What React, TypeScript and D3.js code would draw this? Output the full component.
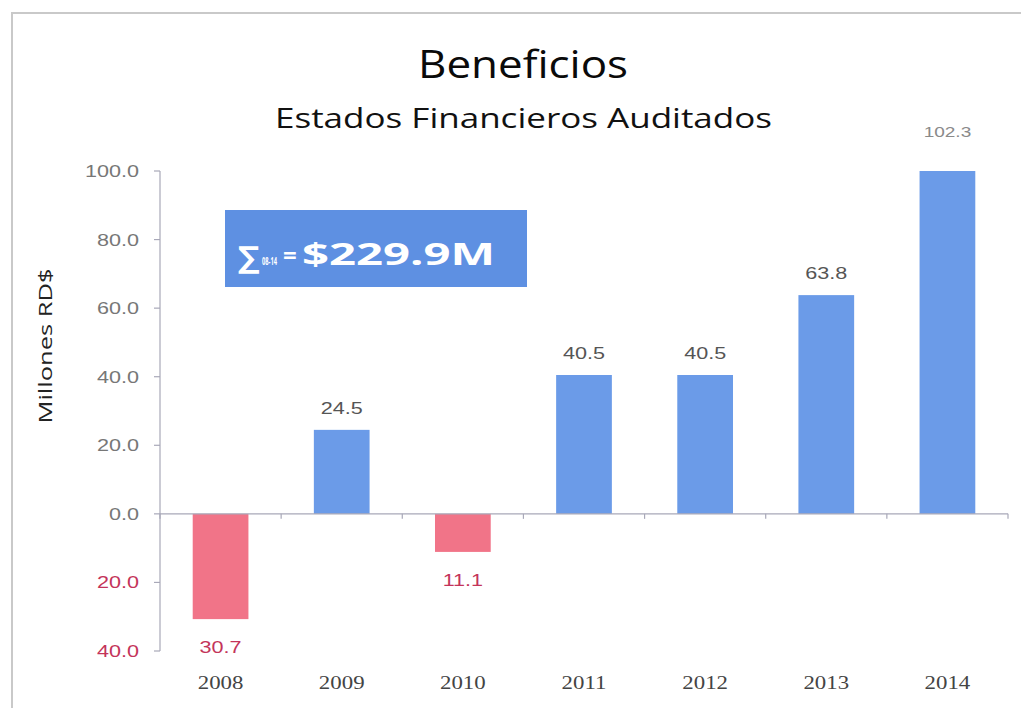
import React from "react";
import * as d3 from "d3";

const years = ["2008", "2009", "2010", "2011", "2012", "2013", "2014"];
const values = [-30.7, 24.5, -11.1, 40.5, 40.5, 63.8, 102.3];
const yTicks = [-40, -20, 0, 20, 40, 60, 80, 100];

const W = 1021;
const H = 708;
const SX = 1.27; // horizontal stretch of the reference text

const BLUE = "#6b9be8";
const RED = "#f17488";
const NEG_TEXT = "#c4345a";

export default function App() {
  const x = d3
    .scaleBand<string>()
    .domain(years)
    .range([160, 1008])
    .paddingInner(0.54)
    .paddingOuter(0.27);
  const y = d3.scaleLinear().domain([-40, 100]).range([651, 171]);
  const yc = d3.scaleLinear().domain([-40, 100]).range([651, 171]).clamp(true);
  const step = x.step();
  const y0 = y(0);
  const fmt = d3.format(".1f");

  const stretched = (
    tx: number,
    ty: number,
    content: string,
    props: any = {},
    anchor: "start" | "middle" | "end" = "middle"
  ) => (
    <text
      transform={`translate(${tx},${ty}) scale(${SX},1)`}
      textAnchor={anchor}
      {...props}
    >
      {content}
    </text>
  );

  return (
    <svg
      width={W}
      height={H}
      style={{ position: "absolute", left: 0, top: 0, background: "#fff" }}
    >
      <rect x={12} y={13} width={1030} height={720} fill="none" stroke="#c9c9c9" strokeWidth={2} />

      {/* titles */}
      <text
        x={418}
        y={78}
        textLength={210}
        lengthAdjust="spacingAndGlyphs"
        fontFamily="'Open Sans', sans-serif"
        fontWeight={500}
        fontSize={38}
        fill="#0a0a0a"
      >
        Beneficios
      </text>
      <text
        x={275}
        y={128}
        textLength={497}
        lengthAdjust="spacingAndGlyphs"
        fontFamily="'Open Sans', sans-serif"
        fontWeight={500}
        fontSize={27}
        fill="#111"
      >
        Estados Financieros Auditados
      </text>

      {/* y axis title */}
      <text
        transform={`translate(52,346) rotate(-90)`}
        textAnchor="middle"
        textLength={155}
        lengthAdjust="spacingAndGlyphs"
        fontFamily="'Open Sans', sans-serif"
        fontSize={19}
        fill="#222"
      >
        Millones RD$
      </text>

      {/* y axis */}
      <line x1={160} x2={160} y1={y(100)} y2={y(-40)} stroke="#a8a8b8" strokeWidth={1.2} />
      {yTicks.map((t) => (
        <g key={t}>
          <line x1={154} x2={160} y1={y(t)} y2={y(t)} stroke="#a8a8b8" strokeWidth={1.2} />
          {stretched(
            139,
            y(t) + 6,
            fmt(Math.abs(t)),
            {
              fontFamily: "'Liberation Sans', sans-serif",
              fontSize: 17,
              fill: t < 0 ? NEG_TEXT : "#777",
            },
            "end"
          )}
        </g>
      ))}

      {/* bars */}
      {years.map((yr, i) => {
        const v = values[i];
        const top = v >= 0 ? yc(v) : y0;
        const bot = v >= 0 ? y0 : yc(v);
        return (
          <rect
            key={yr}
            x={x(yr)!}
            y={top}
            width={x.bandwidth()}
            height={bot - top}
            fill={v >= 0 ? BLUE : RED}
          />
        );
      })}

      {/* x axis */}
      <line x1={160} x2={1008} y1={y0} y2={y0} stroke="#a8a8b8" strokeWidth={1.2} />
      {d3.range(years.length + 1).map((k) => (
        <line
          key={k}
          x1={160 + k * step}
          x2={160 + k * step}
          y1={y0}
          y2={y0 + 5}
          stroke="#a8a8b8"
          strokeWidth={1.2}
        />
      ))}

      {/* value labels */}
      {years.map((yr, i) => {
        const v = values[i];
        const cx = x(yr)! + x.bandwidth() / 2;
        const ty = v >= 0 ? yc(v) - (v > 100 ? 34 : 16) : yc(v) + 34;
        return (
          <g key={yr}>
            {stretched(cx, ty, fmt(Math.abs(v)), {
              fontFamily: "'Liberation Sans', sans-serif",
              fontSize: v > 100 ? 15 : 17,
              fill: v >= 0 ? (v > 100 ? "#8a8a8a" : "#555") : NEG_TEXT,
            })}
            {stretched(cx, 689, yr, {
              fontFamily: "'Liberation Serif', serif",
              fontSize: 18,
              fill: "#444",
            })}
          </g>
        );
      })}

      {/* sum box */}
      <rect x={225} y={210} width={302} height={77} fill="#5e90e2" />
      <text y={265} fill="#fff" fontFamily="'Open Sans', sans-serif" fontWeight={700}>
        <tspan x={238} y={268} fontSize={30} fontFamily="'DejaVu Sans', sans-serif">∑</tspan>
        <tspan x={262} y={265} fontSize={10} textLength={15} lengthAdjust="spacingAndGlyphs">08-14</tspan>
        <tspan x={283} y={264} fontSize={24}>=</tspan>
        <tspan x={302} y={265} fontSize={31} textLength={193} lengthAdjust="spacingAndGlyphs">$229.9M</tspan>
      </text>
    </svg>
  );
}
